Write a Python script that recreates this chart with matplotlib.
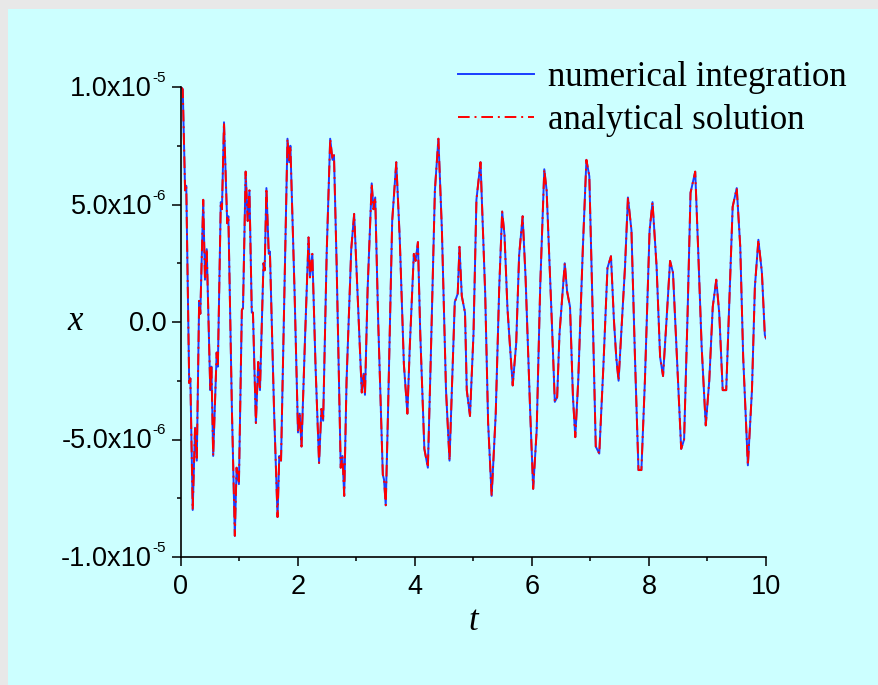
import matplotlib
matplotlib.use('Agg')
import matplotlib.pyplot as plt
from matplotlib.patches import Rectangle
from matplotlib.ticker import MultipleLocator, FixedLocator, NullFormatter

# values (x in units of 1e-6)
t_vals = [0.00, 0.03, 0.07, 0.09, 0.14, 0.16, 0.20, 0.24, 0.27, 0.31, 0.33, 0.38, 0.41, 0.44,
          0.50, 0.52, 0.55, 0.61, 0.63, 0.68, 0.70, 0.735, 0.79, 0.81, 0.87, 0.92, 0.95, 0.99,
          1.04, 1.06, 1.105, 1.14, 1.17, 1.21, 1.23, 1.28, 1.32, 1.35, 1.41, 1.43, 1.46, 1.50,
          1.52, 1.59, 1.65, 1.68, 1.71, 1.77, 1.82, 1.85, 1.87, 1.94, 2.00, 2.03, 2.06, 2.12,
          2.18, 2.205, 2.245, 2.30, 2.36, 2.40, 2.43, 2.49, 2.55, 2.59, 2.615, 2.66, 2.73, 2.76,
          2.79, 2.83, 2.91, 2.96, 3.02, 3.09, 3.12, 3.145, 3.19, 3.26, 3.29, 3.32, 3.37, 3.45,
          3.47, 3.50, 3.54, 3.61, 3.68, 3.74, 3.81, 3.87, 3.91, 3.98, 4.01, 4.05, 4.09, 4.16,
          4.22, 4.27, 4.34, 4.40, 4.46, 4.53, 4.59, 4.68, 4.73, 4.76, 4.80, 4.855, 4.885, 4.94,
          5.00, 5.05, 5.12, 5.20, 5.25, 5.31, 5.38, 5.44, 5.49, 5.53, 5.58, 5.62, 5.67, 5.73,
          5.78, 5.84, 5.89, 5.97, 6.02, 6.08, 6.14, 6.21, 6.25, 6.34, 6.39, 6.43, 6.47, 6.56,
          6.60, 6.65, 6.70, 6.74, 6.79, 6.87, 6.93, 6.98, 7.04, 7.09, 7.15, 7.22, 7.29, 7.35,
          7.40, 7.44, 7.48, 7.50, 7.59, 7.64, 7.70, 7.76, 7.82, 7.87, 7.93, 8.01, 8.06, 8.13,
          8.19, 8.24, 8.30, 8.36, 8.41, 8.47, 8.55, 8.60, 8.66, 8.71, 8.79, 8.84, 8.90, 8.97,
          9.03, 9.09, 9.15, 9.20, 9.26, 9.32, 9.37, 9.43, 9.50, 9.56, 9.61, 9.69, 9.76, 9.81,
          9.87, 9.93, 9.98, 10.00]

x_numerical = [10.0, 9.9, 5.6, 5.8, -2.6, -2.4, -8.0, -4.5, -5.9, 0.9, 0.35, 5.2, 1.8, 3.1,
               -2.9, -1.9, -5.7, -1.3, -1.9, 5.1, 4.8, 8.5, 4.2, 4.5, -3.7, -9.1, -6.2, -6.9,
               0.5, 0.6, 6.4, 4.3, 5.6, 0.4, 0.4, -4.3, -1.7, -2.9, 2.5, 2.2, 5.7, 2.9,
               3.0, -3.7, -8.3, -5.7, -5.9, 1.5, 7.8, 6.8, 7.5, 1.4, -4.7, -3.9, -5.3, -0.7,
               3.6, 1.9, 2.9, -1.9, -6.0, -3.7, -4.2, 2.9, 7.8, 6.9, 7.1, 2.5, -6.2, -5.7,
               -7.4, -2.5, 3.1, 4.6, 1.1, -3.0, -2.2, -3.1, 1.4, 5.9, 4.8, 5.3, 0.1, -6.5,
               -6.7, -7.8, -3.7, 4.3, 6.8, 3.5, -1.8, -3.9, -1.1, 2.9, 2.6, 3.4, -0.5, -5.4,
               -6.2, -1.5, 5.6, 7.8, 3.9, -2.9, -5.9, 0.85, 1.2, 3.2, 1.1, 0.4, -2.9, -4.0,
               -0.5, 5.2, 6.8, 1.2, -4.3, -7.4, -3.9, 1.5, 4.7, 3.7, 0.6, -0.9, -2.7, -0.9,
               2.85, 4.5, 1.9, -3.9, -7.1, -4.6, 1.5, 6.5, 5.6, -0.05, -3.4, -3.2, -0.5, 2.5,
               1.3, 0.65, -3.2, -4.9, -2.5, 3.2, 6.9, 6.2, 0.1, -5.3, -5.6, -1.9, 2.3, 2.8,
               0.1, -1.5, -2.5, -1.6, 2.35, 5.3, 3.9, -1.5, -6.3, -6.3, -2.5, 3.9, 5.1, 2.35,
               -1.5, -2.3, 0.1, 2.6, 2.1, -1.1, -5.4, -5.0, 0.4, 5.5, 6.4, 3.1, -1.05, -4.4,
               -2.5, 0.65, 1.8, 0.4, -2.9, -2.9, 0.65, 4.9, 5.7, 3.2, -1.5, -6.1, -2.9, 1.5,
               3.5, 2.1, -0.55, -0.7]

# the analytical curve lies on top of the numerical one in the picture
x_analytical = list(x_numerical)

y_ticks = [-1.0e-5, -5.0e-6, 0.0, 5.0e-6, 1.0e-5]
y_tick_main = ['-1.0x10', '-5.0x10', '0.0', '5.0x10', '1.0x10']
y_tick_exp = ['-5', '-6', '', '-6', '-5']

plt.rcParams['font.family'] = ['Liberation Sans', 'DejaVu Sans']

W, H = 879, 685
PT = 0.72  # points per pixel at dpi 100
fig = plt.figure(figsize=(W / 100, H / 100), dpi=100, facecolor='#e8e8e8')
fig.patches.append(Rectangle((8 / W, 0), 1, 1 - 9 / H, transform=fig.transFigure,
                             facecolor='#ccffff', edgecolor='none', zorder=-10))

ax = fig.add_axes([181 / W, 1 - 557 / H, 585 / W, 470 / H])
ax.set_facecolor('none')

scale = 1e-6
ax.plot(t_vals, [v * scale for v in x_numerical], color='#1a3cff', lw=1.4,
        label='numerical integration')
ax.plot(t_vals, [v * scale for v in x_analytical], color='#ff0000', lw=1.4,
        linestyle=(0, (6, 2.5, 1, 2.5)), label='analytical solution')

ax.set_xlim(0, 10)
ax.set_ylim(-1.0e-5, 1.0e-5)
ax.xaxis.set_major_locator(MultipleLocator(2))
ax.xaxis.set_minor_locator(MultipleLocator(1))
ax.yaxis.set_major_locator(FixedLocator(y_ticks))
ax.yaxis.set_major_formatter(NullFormatter())
ax.yaxis.set_minor_locator(MultipleLocator(2.5e-6))

for side in ['top', 'right']:
    ax.spines[side].set_visible(False)
for side in ['left', 'bottom']:
    ax.spines[side].set_linewidth(1.2)

ax.tick_params(which='major', direction='out', length=6.5, width=1.1, labelsize=19.5, pad=5.5)
ax.tick_params(which='minor', direction='out', length=3, width=1.1)

# y tick labels: mantissa plus a small raised exponent
for val, main, exp in zip(y_ticks, y_tick_main, y_tick_exp):
    right = -14 if not exp else -29
    ax.annotate(main, xy=(0, val), xycoords=('axes fraction', 'data'),
                xytext=(right * PT, -9 * PT), textcoords='offset points',
                ha='right', va='baseline', fontsize=19.5, annotation_clip=False)
    if exp:
        ax.annotate(exp, xy=(0, val), xycoords=('axes fraction', 'data'),
                    xytext=(-29 * PT, 5 * PT), textcoords='offset points',
                    ha='left', va='baseline', fontsize=11, annotation_clip=False)

ax.set_xlabel('t', fontfamily='Liberation Serif', style='italic', fontsize=25,
              va='center', ha='center')
ax.xaxis.set_label_coords(0.5, (557 - 622) / 470)
ax.set_ylabel('x', fontfamily='Liberation Serif', style='italic', fontsize=25,
              rotation=0, va='center', ha='center')
ax.yaxis.set_label_coords((75 - 181) / 585, 0.5)

ax.legend(loc='upper left', bbox_to_anchor=(458 / W, 1 - 61 / H), bbox_transform=fig.transFigure,
          frameon=False, borderpad=0, borderaxespad=0, handlelength=2.2, handletextpad=0.4,
          labelspacing=0.29, prop={'family': 'Liberation Serif', 'size': 25})

fig.savefig('out.png', dpi=100, facecolor=fig.get_facecolor())
